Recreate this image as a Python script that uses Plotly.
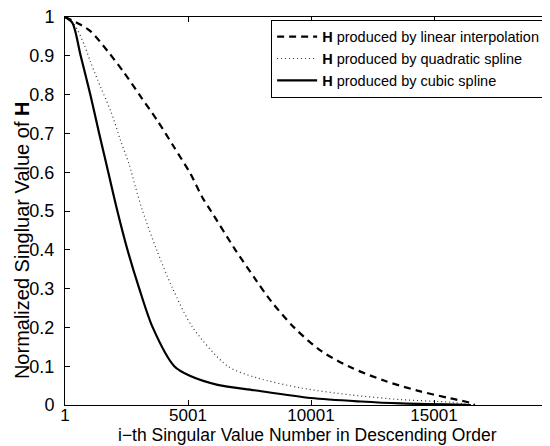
import plotly.graph_objects as go

# Data (i-th singular value index, normalized value)
linear_i = [1, 638, 1045, 1723, 2398, 3077, 3756, 4431, 5110, 5585, 5935, 6923, 7764, 8362, 9309, 10394, 11614, 12967, 14325, 15679, 16561, 16650]
linear_v = [1.0, 0.98, 0.963, 0.913, 0.857, 0.795, 0.733, 0.665, 0.595, 0.535, 0.5, 0.4, 0.322, 0.269, 0.2, 0.14, 0.097, 0.063, 0.037, 0.017, 0.004, 0.0]

quad_i = [1, 366, 772, 1045, 1451, 1858, 2264, 2602, 2874, 3157, 3727, 4378, 5191, 6613, 7800, 9589, 11622, 13654, 15687, 16561]
quad_v = [1.0, 0.982, 0.93, 0.883, 0.819, 0.758, 0.681, 0.621, 0.56, 0.5, 0.4, 0.3, 0.2, 0.1, 0.07, 0.044, 0.026, 0.014, 0.007, 0.0]

cubic_i = [1, 300, 638, 1030, 1390, 1760, 2130, 2540, 3020, 3565, 4443, 5053, 6207, 7700, 9996, 12028, 13654, 16500]
cubic_v = [1.0, 0.985, 0.9, 0.8, 0.7, 0.6, 0.5, 0.4, 0.3, 0.2, 0.1, 0.076, 0.052, 0.038, 0.018, 0.009, 0.004, 0.0]

x_ticks = [1, 5001, 10001, 15001]
x_tick_text = ["1", "5001", "10001", "15001"]
y_ticks = [0, 0.1, 0.2, 0.3, 0.4, 0.5, 0.6, 0.7, 0.8, 0.9, 1]
y_tick_text = ["0", "0.1", "0.2", "0.3", "0.4", "0.5", "0.6", "0.7", "0.8", "0.9", "1"]

x_title = "i\u2212th Singular Value Number in Descending Order"
y_title = "Normalized Singluar Value of <b>H</b>"

FONT = "Liberation Sans, Arial, Helvetica, sans-serif"

fig = go.Figure()
fig.add_trace(go.Scatter(x=linear_i, y=linear_v, mode="lines",
                         name="<b>H</b> produced by linear interpolation",
                         line=dict(color="black", width=2.2, dash="7px,5px", shape="spline", smoothing=0.8)))
fig.add_trace(go.Scatter(x=quad_i, y=quad_v, mode="lines",
                         name="<b>H</b> produced by quadratic spline",
                         line=dict(color="#333333", width=1.2, dash="1px,3px", shape="spline", smoothing=0.8)))
fig.add_trace(go.Scatter(x=cubic_i, y=cubic_v, mode="lines",
                         name="<b>H</b> produced by cubic spline",
                         line=dict(color="black", width=2.2, shape="spline", smoothing=0.8)))

# page body has an 8px margin: figure is 542x438 so plot area lands at x 65..550, y 17..405
fig.update_layout(
    width=542, height=438,
    margin=dict(l=57, r=0, t=9, b=41),
    paper_bgcolor="white", plot_bgcolor="white",
    font=dict(family=FONT, color="black", size=16),
    showlegend=True,
    legend=dict(x=0.425, y=0.993, xanchor="left", yanchor="top",
                bgcolor="white", bordercolor="black", borderwidth=1,
                font=dict(size=14.5, family=FONT), itemwidth=40,
                tracegroupgap=0),
    xaxis=dict(range=[1, 19716], tickvals=x_ticks, ticktext=x_tick_text,
               ticks="inside", ticklen=5, tickcolor="black",
               showline=True, linecolor="black", linewidth=1, mirror="ticks",
               showgrid=False, zeroline=False, automargin=False,
               tickfont=dict(size=17), ticklabelstandoff=-5,
               ticklabeloverflow="allow"),
    yaxis=dict(range=[0, 1], tickvals=y_ticks, ticktext=y_tick_text,
               ticks="inside", ticklen=5, tickcolor="black",
               showline=True, linecolor="black", linewidth=1, mirror=False,
               showgrid=False, zeroline=False, automargin=False,
               tickfont=dict(size=18), ticklabelstandoff=6,
               ticklabeloverflow="allow"),
    annotations=[
        dict(text=x_title, xref="paper", yref="paper", x=0.5, y=-0.077,
             xanchor="center", yanchor="middle", showarrow=False,
             font=dict(size=17.5, family=FONT, color="black")),
        dict(text=y_title, xref="paper", yref="paper", x=-0.0887, y=0.425,
             xanchor="center", yanchor="middle", showarrow=False, textangle=-90,
             font=dict(size=20, family=FONT, color="black")),
    ],
)

fig.write_html("out.html")
